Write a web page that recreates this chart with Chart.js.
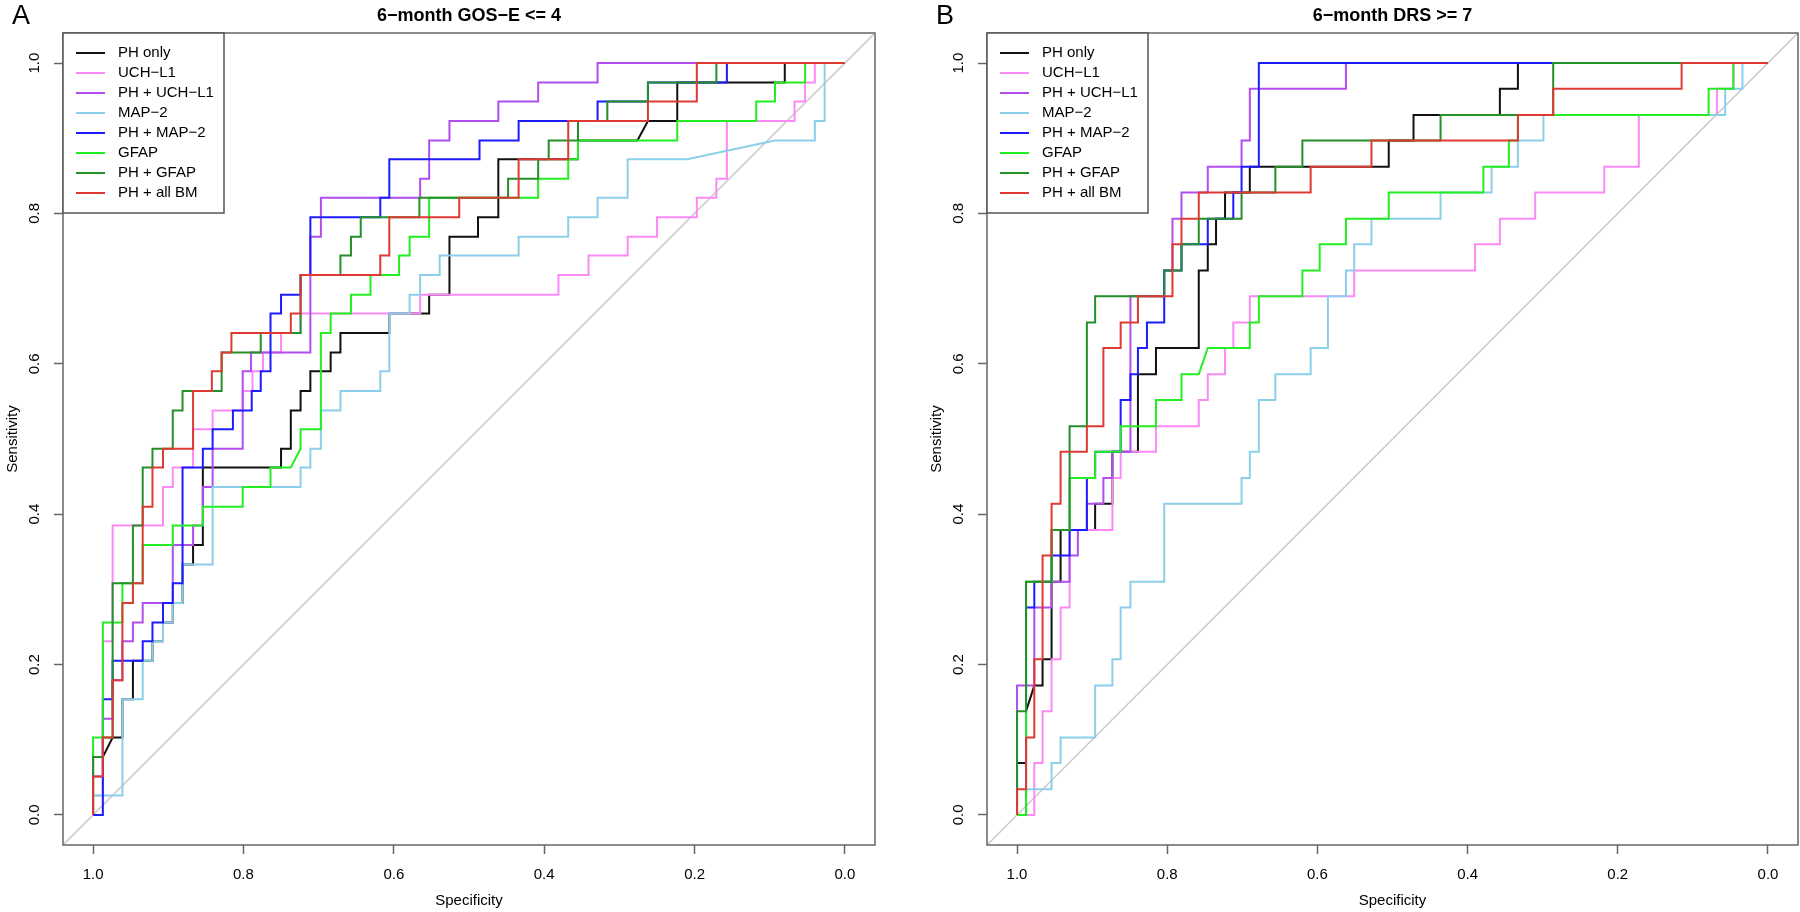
<!DOCTYPE html>
<html>
<head>
<meta charset="utf-8">
<script src="https://cdn.jsdelivr.net/npm/chart.js@4.4.1/dist/chart.umd.min.js"></script>
<style>
  html, body { margin: 0; padding: 0; background: #fff; }
  #wrap { position: relative; width: 1800px; height: 912px; overflow: hidden; }
  canvas { position: absolute; top: 0; }
  #cA { left: 0; }
  #cB { left: 924px; }
</style>
</head>
<body>
<div id="wrap">
  <canvas id="cA" width="900" height="912"></canvas>
  <canvas id="cB" width="876" height="912"></canvas>
</div>
<script>
// ---- data: ROC curves as [specificity, sensitivity] at each step (third item 1 = tie, drawn diagonal)
const CURVE_NAMES = ["PH only", "UCH\u2212L1", "PH + UCH\u2212L1", "MAP\u22122", "PH + MAP\u22122", "GFAP", "PH + GFAP", "PH + all BM"];
const TICKS = [0, 0.2, 0.4, 0.6, 0.8, 1.0];
const AXIS_MIN = -0.04;
const AXIS_MAX = 1.04;

// panel A: 6-month GOS-E <= 4
const A_PH_ONLY = [[1.0, .077], [0.987, .077], [0.974, .103, 1], [0.961, .154], [0.947, .205], [0.921, .231], [0.907, .256], [0.894, .282], [0.881, .333], [0.867, .359], [0.854, .462], [0.750, .487], [0.737, .538], [0.724, .564], [0.711, .590], [0.684, .615], [0.671, .641], [0.606, .667], [0.553, .692], [0.526, .769], [0.488, .795], [0.461, .872], [0.355, .897], [0.276, .897], [0.262, .923, 1], [0.223, .974], [0.080, 1], [0, 1]];
const A_UCH_L1 = [[1.0, .026], [0.987, .231], [0.974, .385], [0.907, .436], [0.894, .462], [0.867, .513], [0.841, .538], [0.801, .564], [0.788, .590], [0.774, .615], [0.750, .641], [0.724, .667], [0.565, .692], [0.381, .718], [0.341, .744], [0.289, .769], [0.250, .795], [0.197, .821], [0.171, .846], [0.157, .923], [0.067, .949], [0.053, .974], [0.040, 1], [0, 1]];
const A_PH_UCH_L1 = [[1.0, .051], [0.987, .128], [0.974, .179], [0.961, .231], [0.947, .256], [0.934, .282], [0.894, .359], [0.867, .385], [0.854, .436], [0.841, .487], [0.801, .590], [0.790, .615], [0.711, .769], [0.697, .821], [0.565, .846], [0.553, .897], [0.526, .923], [0.461, .949], [0.408, .974], [0.329, 1], [0, 1]];
const A_MAP_2 = [[1.0, .026], [0.961, .154], [0.934, .205], [0.921, .231], [0.907, .256], [0.894, .282], [0.881, .333], [0.841, .436], [0.724, .462], [0.711, .487], [0.697, .538], [0.671, .564], [0.618, .590], [0.606, .667], [0.579, .692], [0.565, .718], [0.539, .744], [0.434, .769], [0.368, .795], [0.329, .821], [0.289, .872], [0.210, .872], [0.093, .897, 1], [0.040, .923], [0.027, 1], [0, 1]];
const A_PH_MAP_2 = [[1.0, 0], [0.987, .154], [0.974, .205], [0.934, .231], [0.921, .256], [0.907, .282], [0.894, .308], [0.881, .462], [0.854, .487], [0.841, .513], [0.814, .538], [0.789, .564], [0.777, .590], [0.764, .667], [0.750, .692], [0.724, .718], [0.711, .795], [0.618, .821], [0.606, .872], [0.486, .897], [0.434, .923], [0.329, .949], [0.262, .974], [0.157, 1], [0, 1]];
const A_GFAP = [[1.0, .103], [0.987, .256], [0.961, .308], [0.934, .359], [0.894, .385], [0.854, .410], [0.801, .436], [0.764, .462], [0.737, .462], [0.724, .487, 1], [0.724, .513], [0.697, .641], [0.684, .667], [0.657, .692], [0.631, .718], [0.593, .744], [0.579, .769], [0.553, .821], [0.408, .846], [0.368, .872], [0.355, .897], [0.223, .923], [0.118, .949], [0.093, .974], [0.053, 1], [0, 1]];
const A_PH_GFAP = [[1.0, .077], [0.987, .103], [0.974, .308], [0.947, .385], [0.934, .462], [0.921, .487], [0.894, .538], [0.881, .564], [0.829, .615], [0.777, .641], [0.724, .718], [0.671, .744], [0.657, .769], [0.644, .795], [0.566, .821], [0.448, .846], [0.408, .872], [0.394, .897], [0.355, .923], [0.316, .949], [0.262, .974], [0.171, 1], [0, 1]];
const A_PH_ALL_BM = [[1.0, .051], [0.987, .103], [0.974, .179], [0.961, .282], [0.947, .308], [0.934, .410], [0.921, .462], [0.907, .487], [0.867, .564], [0.842, .590], [0.829, .615], [0.816, .641], [0.737, .667], [0.724, .718], [0.618, .744], [0.606, .795], [0.513, .821], [0.434, .872], [0.368, .923], [0.262, .949], [0.197, 1], [0, 1]];

// panel B: 6-month DRS >= 7
const B_PH_ONLY = [[1.0, .069], [0.988, .138], [0.977, .172, 1], [0.966, .207], [0.954, .310], [0.942, .379], [0.896, .414], [0.873, .483], [0.839, .586], [0.815, .621], [0.758, .724], [0.746, .759], [0.735, .793], [0.723, .828], [0.690, .862], [0.505, .897], [0.472, .931], [0.357, .966], [0.333, 1], [0, 1]];
const B_UCH_L1 = [[0.977, .069], [0.966, .138], [0.954, .207], [0.942, .276], [0.930, .379], [0.873, .448], [0.862, .483], [0.815, .517], [0.758, .552], [0.746, .586], [0.723, .621], [0.712, .655], [0.690, .690], [0.551, .724], [0.390, .759], [0.357, .793], [0.310, .828], [0.218, .862], [0.172, .931], [0.068, .966], [0.046, 1], [0, 1]];
const B_PH_UCH_L1 = [[1.0, .172], [0.977, .276], [0.954, .310], [0.930, .345], [0.919, .379], [0.907, .414], [0.885, .448], [0.873, .483], [0.849, .690], [0.804, .724], [0.793, .793], [0.781, .828], [0.746, .862], [0.701, .897], [0.690, .966], [0.562, 1], [0, 1]];
const B_MAP_2 = [[0.988, .034], [0.954, .069], [0.942, .103], [0.896, .172], [0.873, .207], [0.862, .276], [0.849, .310], [0.804, .414], [0.701, .448], [0.690, .483], [0.678, .552], [0.656, .586], [0.609, .621], [0.586, .690], [0.562, .724], [0.551, .759], [0.528, .793], [0.436, .828], [0.368, .862], [0.333, .897], [0.299, .931], [0.057, .966], [0.034, 1], [0, 1]];
const B_PH_MAP_2 = [[0.988, .276], [0.977, .310], [0.954, .345], [0.930, .379], [0.907, .448], [0.896, .483], [0.862, .552], [0.849, .586], [0.839, .621], [0.827, .655], [0.804, .724], [0.781, .759], [0.746, .793], [0.712, .828], [0.701, .862], [0.678, 1], [0, 1]];
const B_GFAP = [[0.988, .310], [0.954, .379], [0.930, .448], [0.896, .483], [0.862, .517], [0.815, .552], [0.781, .586], [0.758, .586], [0.746, .621, 1], [0.690, .655], [0.678, .690], [0.620, .724], [0.597, .759], [0.562, .793], [0.505, .828], [0.379, .862], [0.345, .897], [0.333, .931], [0.079, .966], [0.046, 1], [0, 1]];
const B_PH_GFAP = [[1.0, .138], [0.988, .310], [0.954, .379], [0.930, .517], [0.907, .655], [0.896, .690], [0.804, .724], [0.781, .759], [0.758, .793], [0.701, .828], [0.656, .862], [0.620, .897], [0.436, .931], [0.286, 1], [0, 1]];
const B_PH_ALL_BM = [[1.0, .034], [0.988, .103], [0.977, .207], [0.966, .345], [0.954, .414], [0.942, .483], [0.907, .517], [0.885, .621], [0.862, .655], [0.839, .690], [0.793, .759], [0.781, .793], [0.758, .828], [0.609, .862], [0.528, .897], [0.333, .931], [0.286, .966], [0.115, 1], [0, 1]];

// ---- styles
const FONT = '"Liberation Sans", Arial, Helvetica, sans-serif';
const COLORS = ["#111111", "#fb8af7", "#b04ef0", "#8ccfea", "#1c1cff", "#22ee22", "#24902a", "#dc3a33"];
const BOX_COLOR = "#666666";
const DIAG_COLOR = "#c8c8c8";

Chart.defaults.font.family = FONT;
Chart.defaults.color = "#000";

// ROC step path: horizontal run, then vertical rise at each step
function stairs(points) {
  const out = [{ x: 1, y: 0 }];
  let prevY = 0;
  points.forEach((p) => {
    if (!p[2]) out.push({ x: p[0], y: prevY });
    out.push({ x: p[0], y: p[1] });
    prevY = p[1];
  });
  return out;
}

const rocDecor = {
  id: "rocDecor",
  afterDraw(chart, args, opts) {
    const { ctx, chartArea: a, scales } = chart;
    ctx.save();

    ctx.strokeStyle = BOX_COLOR;
    ctx.lineWidth = 1.5;
    ctx.strokeRect(a.left, a.top, a.right - a.left, a.bottom - a.top);

    // y tick labels, rotated like base R
    ctx.fillStyle = "#000";
    ctx.font = "15px " + FONT;
    ctx.textAlign = "center";
    ctx.textBaseline = "middle";
    TICKS.forEach((v) => {
      const y = scales.y.getPixelForValue(v);
      ctx.save();
      ctx.translate(a.left - 28, y);
      ctx.rotate(-Math.PI / 2);
      ctx.fillText(v.toFixed(1), 0, 0);
      ctx.restore();
    });

    ctx.font = "bold 18px " + FONT;
    ctx.fillText(opts.title, (a.left + a.right) / 2, 16);

    ctx.font = "27px " + FONT;
    ctx.textAlign = "left";
    ctx.textBaseline = "alphabetic";
    ctx.fillText(opts.letter, 12, 24);

    // legend in the top-left corner
    const lx = a.left, ly = a.top;
    ctx.fillStyle = "#fff";
    ctx.fillRect(lx, ly, 161, 180);
    ctx.strokeStyle = "#555";
    ctx.lineWidth = 1.5;
    ctx.strokeRect(lx, ly, 161, 180);
    ctx.font = "15px " + FONT;
    ctx.textBaseline = "middle";
    CURVE_NAMES.forEach((name, i) => {
      const y = ly + 20 + 20 * i;
      ctx.strokeStyle = COLORS[i];
      ctx.lineWidth = 2;
      ctx.beginPath();
      ctx.moveTo(lx + 13, y);
      ctx.lineTo(lx + 42, y);
      ctx.stroke();
      ctx.fillStyle = "#000";
      ctx.fillText(name, lx + 55, y);
    });
    ctx.restore();
  },
};

function axis(extra) {
  return Object.assign({
    type: "linear",
    min: AXIS_MIN,
    max: AXIS_MAX,
    afterBuildTicks: (s) => { s.ticks = TICKS.map((v) => ({ value: v })); },
    grid: { drawOnChartArea: false, drawTicks: true, tickLength: 9, tickWidth: 1.5, tickColor: BOX_COLOR },
    border: { display: false },
  }, extra);
}

function makePanel(id, curves, title, letter, padRight) {
  const datasets = curves.map((pts, i) => ({
    label: CURVE_NAMES[i],
    data: stairs(pts),
    showLine: true,
    borderColor: COLORS[i],
    borderWidth: 2,
    pointRadius: 0,
    tension: 0,
    order: curves.length - i,
  }));
  datasets.push({
    label: "chance",
    data: [{ x: AXIS_MAX, y: 1 - AXIS_MAX }, { x: AXIS_MIN, y: 1 - AXIS_MIN }],
    showLine: true,
    borderColor: DIAG_COLOR,
    borderWidth: 1.5,
    pointRadius: 0,
    order: 20,
  });

  new Chart(document.getElementById(id), {
    type: "scatter",
    data: { datasets },
    options: {
      responsive: false,
      animation: false,
      layout: { padding: { top: 33, right: padRight, bottom: 0, left: 0 } },
      plugins: {
        legend: { display: false },
        tooltip: { enabled: false },
        rocDecor: { title, letter },
      },
      scales: {
        x: axis({
          reverse: true,
          afterFit: (s) => { s.height = 67; },
          ticks: { padding: 12, font: { size: 15 }, color: "#000", callback: (v) => v.toFixed(1) },
          title: { display: true, text: "Specificity", font: { size: 15 }, padding: { top: 0, bottom: 2 } },
        }),
        y: axis({
          afterFit: (s) => { s.width = 63; },
          ticks: { color: "rgba(0,0,0,0)", font: { size: 15 } },
          title: { display: true, text: "Sensitivity", font: { size: 15 }, padding: { top: 4, bottom: 0 } },
        }),
      },
    },
    plugins: [rocDecor],
  });
}

makePanel("cA", [A_PH_ONLY, A_UCH_L1, A_PH_UCH_L1, A_MAP_2, A_PH_MAP_2, A_GFAP, A_PH_GFAP, A_PH_ALL_BM], "6\u2212month GOS\u2212E <= 4", "A", 25);
makePanel("cB", [B_PH_ONLY, B_UCH_L1, B_PH_UCH_L1, B_MAP_2, B_PH_MAP_2, B_GFAP, B_PH_GFAP, B_PH_ALL_BM], "6\u2212month DRS >= 7", "B", 2);
</script>
</body>
</html>
